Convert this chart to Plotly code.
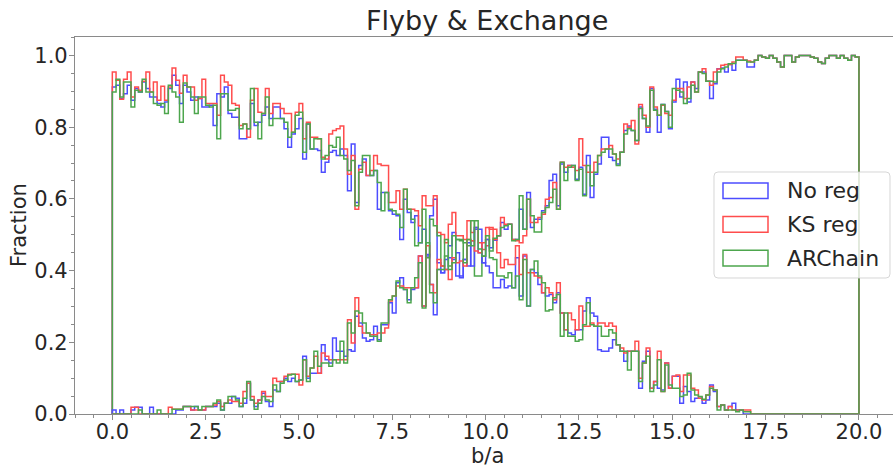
import numpy as np
import plotly.graph_objects as go

# 200 bins of width 0.1 in b/a, from 0 to 20
bin_edges = np.linspace(0.0, 20.0, 201)

# ---- Flyby fraction per bin ----
flyby_noreg = [
    0.912, 0.917, 0.880, 0.893, 0.917, 0.875, 0.908, 0.898, 0.926, 0.908,
    0.884, 0.884, 0.866, 0.856, 0.870, 0.908, 0.945, 0.917, 0.866, 0.917,
    0.898, 0.875, 0.884, 0.880, 0.856, 0.856, 0.861, 0.805, 0.893, 0.884,
    0.912, 0.838, 0.828, 0.828, 0.768, 0.768, 0.796, 0.866, 0.805, 0.814,
    0.833, 0.856, 0.824, 0.856, 0.856, 0.824, 0.796, 0.744, 0.781, 0.796,
    0.824, 0.711, 0.809, 0.739, 0.739, 0.735, 0.674, 0.702, 0.730, 0.735,
    0.721, 0.739, 0.721, 0.623, 0.753, 0.590, 0.693, 0.711, 0.665, 0.665,
    0.679, 0.571, 0.618, 0.618, 0.567, 0.557, 0.553, 0.487, 0.599, 0.562,
    0.534, 0.553, 0.478, 0.515, 0.441, 0.553, 0.599, 0.422, 0.394, 0.403,
    0.469, 0.506, 0.385, 0.380, 0.431, 0.413, 0.483, 0.515, 0.450, 0.422,
    0.413, 0.394, 0.352, 0.352, 0.375, 0.352, 0.357, 0.352, 0.436, 0.329,
    0.441, 0.301, 0.403, 0.394, 0.361, 0.338, 0.329, 0.333, 0.310, 0.338,
    0.282, 0.235, 0.226, 0.221, 0.235, 0.235, 0.287, 0.324, 0.282, 0.273,
    0.179, 0.175, 0.175, 0.184, 0.207, 0.193, 0.175, 0.147, 0.175, 0.175,
    0.175, 0.072, 0.147, 0.175, 0.072, 0.091, 0.072, 0.067, 0.142, 0.072,
    0.105, 0.105, 0.030, 0.077, 0.063, 0.035, 0.044, 0.044, 0.030, 0.039,
    0.081, 0.063, 0.021, 0.025, 0.011, 0.021, 0.030, 0.011, 0.011, 0.000,
    0.000, 0.000, 0.000, 0.000, 0.000, 0.000, 0.000, 0.000, 0.000, 0.000,
    0.000, 0.000, 0.000, 0.000, 0.000, 0.000, 0.000, 0.000, 0.000, 0.000,
    0.000, 0.000, 0.000, 0.000, 0.000, 0.000, 0.000, 0.000, 0.000, 0.000,
]
flyby_ks = [
    0.954, 0.931, 0.878, 0.934, 0.954, 0.884, 0.912, 0.903, 0.928, 0.954,
    0.898, 0.926, 0.875, 0.914, 0.875, 0.912, 0.965, 0.931, 0.895, 0.945,
    0.912, 0.912, 0.875, 0.880, 0.934, 0.866, 0.866, 0.866, 0.833, 0.945,
    0.926, 0.917, 0.866, 0.861, 0.805, 0.809, 0.772, 0.875, 0.908, 0.842,
    0.838, 0.908, 0.838, 0.866, 0.866, 0.852, 0.838, 0.838, 0.786, 0.842,
    0.866, 0.768, 0.814, 0.772, 0.772, 0.768, 0.716, 0.711, 0.781, 0.791,
    0.796, 0.803, 0.739, 0.669, 0.721, 0.571, 0.683, 0.702, 0.665, 0.679,
    0.721, 0.697, 0.693, 0.693, 0.590, 0.590, 0.623, 0.571, 0.627, 0.571,
    0.571, 0.567, 0.525, 0.609, 0.581, 0.581, 0.609, 0.506, 0.501, 0.478,
    0.529, 0.562, 0.497, 0.497, 0.487, 0.539, 0.506, 0.520, 0.478, 0.459,
    0.469, 0.520, 0.515, 0.450, 0.408, 0.431, 0.417, 0.417, 0.469, 0.389,
    0.445, 0.394, 0.394, 0.385, 0.380, 0.338, 0.352, 0.338, 0.319, 0.366,
    0.282, 0.235, 0.282, 0.263, 0.235, 0.301, 0.245, 0.245, 0.254, 0.245,
    0.254, 0.254, 0.245, 0.254, 0.245, 0.193, 0.184, 0.170, 0.175, 0.175,
    0.203, 0.100, 0.142, 0.184, 0.072, 0.091, 0.175, 0.063, 0.142, 0.072,
    0.105, 0.109, 0.063, 0.109, 0.109, 0.072, 0.067, 0.044, 0.039, 0.053,
    0.077, 0.067, 0.021, 0.025, 0.011, 0.021, 0.011, 0.011, 0.011, 0.011,
    0.011, 0.000, 0.000, 0.000, 0.000, 0.000, 0.000, 0.000, 0.000, 0.000,
    0.000, 0.000, 0.000, 0.000, 0.000, 0.000, 0.000, 0.000, 0.000, 0.000,
    0.000, 0.000, 0.000, 0.000, 0.000, 0.000, 0.000, 0.000, 0.000, 0.000,
]
flyby_archain = [
    0.898, 0.934, 0.884, 0.926, 0.926, 0.856, 0.903, 0.898, 0.934, 0.898,
    0.898, 0.866, 0.861, 0.866, 0.838, 0.917, 0.898, 0.884, 0.814, 0.923,
    0.912, 0.884, 0.838, 0.884, 0.884, 0.861, 0.856, 0.861, 0.768, 0.893,
    0.893, 0.847, 0.847, 0.852, 0.796, 0.809, 0.796, 0.908, 0.814, 0.768,
    0.838, 0.884, 0.805, 0.824, 0.824, 0.824, 0.814, 0.772, 0.786, 0.833,
    0.842, 0.730, 0.809, 0.739, 0.768, 0.768, 0.711, 0.721, 0.749, 0.744,
    0.772, 0.721, 0.711, 0.679, 0.707, 0.581, 0.674, 0.721, 0.721, 0.665,
    0.679, 0.646, 0.567, 0.618, 0.571, 0.567, 0.557, 0.520, 0.627, 0.571,
    0.543, 0.469, 0.478, 0.571, 0.436, 0.543, 0.525, 0.497, 0.413, 0.487,
    0.413, 0.497, 0.487, 0.483, 0.478, 0.469, 0.539, 0.385, 0.385, 0.441,
    0.487, 0.436, 0.431, 0.385, 0.385, 0.380, 0.394, 0.352, 0.385, 0.319,
    0.431, 0.301, 0.403, 0.427, 0.385, 0.366, 0.287, 0.291, 0.324, 0.333,
    0.217, 0.282, 0.217, 0.217, 0.203, 0.207, 0.249, 0.310, 0.249, 0.245,
    0.245, 0.217, 0.217, 0.235, 0.226, 0.193, 0.175, 0.175, 0.123, 0.175,
    0.175, 0.091, 0.142, 0.161, 0.063, 0.081, 0.151, 0.063, 0.137, 0.081,
    0.072, 0.072, 0.049, 0.053, 0.114, 0.067, 0.053, 0.049, 0.041, 0.053,
    0.072, 0.067, 0.011, 0.025, 0.011, 0.011, 0.011, 0.006, 0.011, 0.006,
    0.006, 0.000, 0.000, 0.000, 0.000, 0.000, 0.000, 0.000, 0.000, 0.000,
    0.000, 0.000, 0.000, 0.000, 0.000, 0.000, 0.000, 0.000, 0.000, 0.000,
    0.000, 0.000, 0.000, 0.000, 0.000, 0.000, 0.000, 0.000, 0.000, 0.000,
]

# ---- Exchange fraction per bin ----
exch_noreg = [
    0.011, 0.000, 0.011, 0.000, 0.000, 0.011, 0.019, 0.019, 0.000, 0.000,
    0.019, 0.000, 0.000, 0.000, 0.000, 0.000, 0.000, 0.011, 0.011, 0.021,
    0.021, 0.011, 0.021, 0.011, 0.011, 0.021, 0.021, 0.021, 0.030, 0.011,
    0.030, 0.030, 0.049, 0.044, 0.021, 0.030, 0.086, 0.039, 0.021, 0.039,
    0.058, 0.035, 0.021, 0.067, 0.063, 0.091, 0.100, 0.091, 0.100, 0.091,
    0.095, 0.161, 0.100, 0.114, 0.114, 0.114, 0.193, 0.151, 0.142, 0.212,
    0.175, 0.175, 0.161, 0.179, 0.175, 0.273, 0.254, 0.212, 0.203, 0.207,
    0.245, 0.207, 0.249, 0.249, 0.310, 0.282, 0.366, 0.380, 0.347, 0.319,
    0.347, 0.352, 0.441, 0.301, 0.445, 0.361, 0.277, 0.403, 0.394, 0.431,
    0.436, 0.431, 0.450, 0.385, 0.431, 0.478, 0.413, 0.520, 0.515, 0.422,
    0.487, 0.464, 0.485, 0.497, 0.534, 0.515, 0.529, 0.487, 0.487, 0.571,
    0.515, 0.618, 0.520, 0.543, 0.543, 0.567, 0.581, 0.651, 0.669, 0.581,
    0.697, 0.674, 0.693, 0.693, 0.655, 0.688, 0.613, 0.721, 0.604, 0.669,
    0.697, 0.772, 0.772, 0.716, 0.707, 0.697, 0.730, 0.791, 0.803, 0.791,
    0.763, 0.856, 0.824, 0.786, 0.908, 0.850, 0.786, 0.863, 0.844, 0.796,
    0.870, 0.934, 0.884, 0.926, 0.870, 0.926, 0.908, 0.954, 0.954, 0.928,
    0.880, 0.921, 0.963, 0.965, 0.954, 0.975, 0.959, 0.987, 0.987, 0.987,
    0.968, 0.968, 0.987, 1.000, 0.996, 0.992, 1.000, 0.992, 0.982, 0.968,
    1.000, 1.000, 0.982, 0.996, 1.000, 1.000, 1.000, 0.996, 0.992, 0.982,
    0.978, 0.992, 1.000, 1.000, 0.992, 1.000, 0.992, 0.987, 1.000, 0.996,
]
exch_ks = [
    0.000, 0.000, 0.000, 0.000, 0.000, 0.019, 0.019, 0.000, 0.000, 0.000,
    0.000, 0.000, 0.000, 0.000, 0.000, 0.019, 0.013, 0.013, 0.013, 0.021,
    0.021, 0.011, 0.011, 0.011, 0.011, 0.021, 0.021, 0.025, 0.035, 0.021,
    0.030, 0.039, 0.035, 0.035, 0.030, 0.063, 0.086, 0.049, 0.030, 0.039,
    0.063, 0.049, 0.049, 0.100, 0.091, 0.091, 0.105, 0.111, 0.111, 0.111,
    0.081, 0.151, 0.105, 0.128, 0.161, 0.114, 0.170, 0.161, 0.151, 0.151,
    0.151, 0.151, 0.151, 0.263, 0.198, 0.324, 0.245, 0.226, 0.226, 0.221,
    0.221, 0.226, 0.226, 0.240, 0.315, 0.329, 0.357, 0.357, 0.352, 0.352,
    0.352, 0.352, 0.441, 0.301, 0.469, 0.361, 0.338, 0.431, 0.413, 0.403,
    0.375, 0.436, 0.422, 0.427, 0.413, 0.487, 0.483, 0.455, 0.450, 0.478,
    0.520, 0.515, 0.487, 0.497, 0.548, 0.529, 0.529, 0.487, 0.483, 0.478,
    0.497, 0.599, 0.534, 0.534, 0.548, 0.557, 0.599, 0.604, 0.646, 0.571,
    0.702, 0.688, 0.693, 0.688, 0.679, 0.768, 0.693, 0.674, 0.674, 0.702,
    0.721, 0.739, 0.739, 0.749, 0.725, 0.711, 0.730, 0.809, 0.800, 0.819,
    0.753, 0.863, 0.833, 0.800, 0.912, 0.856, 0.833, 0.861, 0.838, 0.833,
    0.875, 0.908, 0.908, 0.880, 0.912, 0.926, 0.898, 0.954, 0.963, 0.928,
    0.917, 0.954, 0.962, 0.973, 0.975, 0.975, 0.982, 0.996, 0.996, 0.987,
    0.985, 0.982, 0.987, 1.000, 0.996, 0.992, 1.000, 0.992, 0.982, 0.968,
    1.000, 1.000, 0.982, 0.996, 1.000, 1.000, 1.000, 0.996, 0.992, 0.982,
    0.978, 0.992, 1.000, 1.000, 0.992, 1.000, 0.992, 0.987, 1.000, 0.996,
]
exch_archain = [
    0.000, 0.000, 0.000, 0.000, 0.000, 0.000, 0.000, 0.011, 0.000, 0.000,
    0.000, 0.000, 0.011, 0.000, 0.000, 0.000, 0.013, 0.013, 0.013, 0.021,
    0.021, 0.021, 0.021, 0.011, 0.021, 0.021, 0.021, 0.030, 0.039, 0.011,
    0.030, 0.049, 0.049, 0.039, 0.021, 0.044, 0.091, 0.039, 0.013, 0.030,
    0.049, 0.039, 0.035, 0.081, 0.063, 0.086, 0.095, 0.109, 0.111, 0.091,
    0.095, 0.151, 0.091, 0.128, 0.175, 0.133, 0.142, 0.142, 0.133, 0.151,
    0.142, 0.203, 0.142, 0.254, 0.226, 0.287, 0.282, 0.254, 0.226, 0.217,
    0.217, 0.203, 0.254, 0.254, 0.319, 0.329, 0.371, 0.352, 0.347, 0.310,
    0.352, 0.380, 0.422, 0.296, 0.478, 0.338, 0.310, 0.403, 0.403, 0.441,
    0.403, 0.422, 0.487, 0.487, 0.422, 0.487, 0.469, 0.539, 0.460, 0.440,
    0.497, 0.455, 0.490, 0.497, 0.520, 0.525, 0.529, 0.483, 0.487, 0.609,
    0.515, 0.599, 0.553, 0.508, 0.508, 0.562, 0.576, 0.590, 0.627, 0.571,
    0.702, 0.651, 0.688, 0.693, 0.651, 0.683, 0.609, 0.693, 0.637, 0.674,
    0.721, 0.730, 0.739, 0.739, 0.725, 0.693, 0.730, 0.781, 0.796, 0.791,
    0.763, 0.852, 0.824, 0.803, 0.903, 0.847, 0.833, 0.863, 0.844, 0.800,
    0.908, 0.903, 0.898, 0.866, 0.880, 0.917, 0.898, 0.954, 0.950, 0.928,
    0.928, 0.926, 0.954, 0.963, 0.968, 0.977, 0.978, 0.987, 0.987, 0.987,
    0.982, 0.982, 0.987, 1.000, 0.996, 0.992, 1.000, 0.992, 0.982, 0.968,
    1.000, 1.000, 0.982, 0.996, 1.000, 1.000, 1.000, 0.996, 0.992, 0.982,
    0.978, 0.992, 1.000, 1.000, 0.992, 1.000, 0.992, 0.987, 1.000, 0.996,
]

labels = ["No reg", "KS reg", "ARChain"]
# light (70 % tint) versions of blue, red and green, drawn opaque
colors = ["#4d4dff", "#ff4d4d", "#4da64d"]
flyby_sets = [flyby_noreg, flyby_ks, flyby_archain]
exch_sets = [exch_noreg, exch_ks, exch_archain]

for arr in flyby_sets + exch_sets:
    assert len(arr) == len(bin_edges) - 1


def step_outline(vals):
    """Outline of a step histogram (like histtype='step'), for line_shape='hv'."""
    vals = np.asarray(vals, dtype=float)
    x = np.concatenate([[bin_edges[0]], bin_edges[:-1], [bin_edges[-1], bin_edges[-1]]])
    y = np.concatenate([[0.0], vals, [vals[-1], 0.0]])
    return x, y


fig = go.Figure()
for group in (flyby_sets, exch_sets):
    for name, color, vals in zip(labels, colors, group):
        x, y = step_outline(vals)
        fig.add_trace(go.Scatter(
            x=x, y=y, mode="lines", name=name, showlegend=False,
            line=dict(color=color, width=1.5, shape="hv"),
            hoverinfo="skip",
        ))

# Figure geometry (pixels)
W, H = 893, 468
ML, MR, MT, MB = 75, 0, 37, 54
PW, PH = W - ML - MR, H - MT - MB


def px(xp):
    return (xp - ML) / PW


def py(yp):
    return (H - MB - yp) / PH


axis_gray = "#8a8a8a"
text_col = "#262626"
font_fam = "DejaVu Sans"

# Legend box with rounded corners, drawn above the curves
lx0, lx1, ly0, ly1, r = 714, 890, 172, 278, 4
rx, ry = r / PW, r / PH
X0, X1, Y0, Y1 = px(lx0), px(lx1), py(ly1), py(ly0)
legend_path = (
    f"M{X0 + rx},{Y0} L{X1 - rx},{Y0} Q{X1},{Y0} {X1},{Y0 + ry} "
    f"L{X1},{Y1 - ry} Q{X1},{Y1} {X1 - rx},{Y1} L{X0 + rx},{Y1} "
    f"Q{X0},{Y1} {X0},{Y1 - ry} L{X0},{Y0 + ry} Q{X0},{Y0} {X0 + rx},{Y0} Z"
)
shapes = [dict(type="path", path=legend_path, xref="paper", yref="paper",
               fillcolor="rgba(255,255,255,0.8)",
               line=dict(color="rgba(204,204,204,0.8)", width=1), layer="above")]
annotations = []
row_y = [190.7, 224.4, 258.1]
for name, color, yc in zip(labels, colors, row_y):
    shapes.append(dict(type="rect", xref="paper", yref="paper",
                       x0=px(723), x1=px(768), y0=py(yc + 7.8), y1=py(yc - 7.8),
                       line=dict(color=color, width=1.5),
                       fillcolor="rgba(0,0,0,0)", layer="above"))
    annotations.append(dict(text=name, xref="paper", yref="paper",
                            x=px(785), y=py(yc), xanchor="left", yanchor="middle",
                            showarrow=False,
                            font=dict(family=font_fam, size=22, color=text_col)))

# Title and axis titles
annotations.append(dict(text="Flyby & Exchange", xref="paper", yref="paper",
                        x=px(487), y=py(21), xanchor="center", yanchor="middle",
                        showarrow=False,
                        font=dict(family=font_fam, size=27, color=text_col)))
annotations.append(dict(text="b/a", xref="paper", yref="paper",
                        x=px(487), y=py(456), xanchor="center", yanchor="middle",
                        showarrow=False,
                        font=dict(family=font_fam, size=21, color=text_col)))
annotations.append(dict(text="Fraction", xref="paper", yref="paper",
                        x=px(18.5), y=py(225.5), xanchor="center", yanchor="middle",
                        textangle=-90, showarrow=False,
                        font=dict(family=font_fam, size=21, color=text_col)))

x_hi = -1.0 + PW / 37.33

fig.update_layout(
    width=W, height=H,
    margin=dict(l=ML, r=MR, t=MT, b=MB, pad=0),
    paper_bgcolor="white", plot_bgcolor="white",
    font=dict(family=font_fam, size=21, color=text_col),
    showlegend=False,
    shapes=shapes, annotations=annotations,
    xaxis=dict(
        range=[-1.0, x_hi], tick0=0, dtick=2.5, tickformat=".1f",
        showgrid=False, zeroline=False,
        showline=True, linecolor=axis_gray, linewidth=1.2, mirror=True,
        ticks="outside", ticklen=5, tickwidth=1, tickcolor=axis_gray,
        ticklabelstandoff=-6,
        tickfont=dict(family=font_fam, size=21, color=text_col),
        minor=dict(ticks="outside", dtick=0.5, tick0=0, ticklen=2.5,
                   tickwidth=0.8, tickcolor=axis_gray, showgrid=False),
    ),
    yaxis=dict(
        range=[0.0, 1.0516], tick0=0, dtick=0.2, tickformat=".1f",
        showgrid=False, zeroline=False,
        showline=True, linecolor=axis_gray, linewidth=1.2,
        ticks="outside", ticklen=5, tickwidth=1, tickcolor=axis_gray,
        ticklabelstandoff=-3,
        tickfont=dict(family=font_fam, size=21, color=text_col),
        minor=dict(ticks="outside", dtick=0.05, tick0=0, ticklen=2.5,
                   tickwidth=0.8, tickcolor=axis_gray, showgrid=False),
    ),
)

fig.write_html("out.html")
